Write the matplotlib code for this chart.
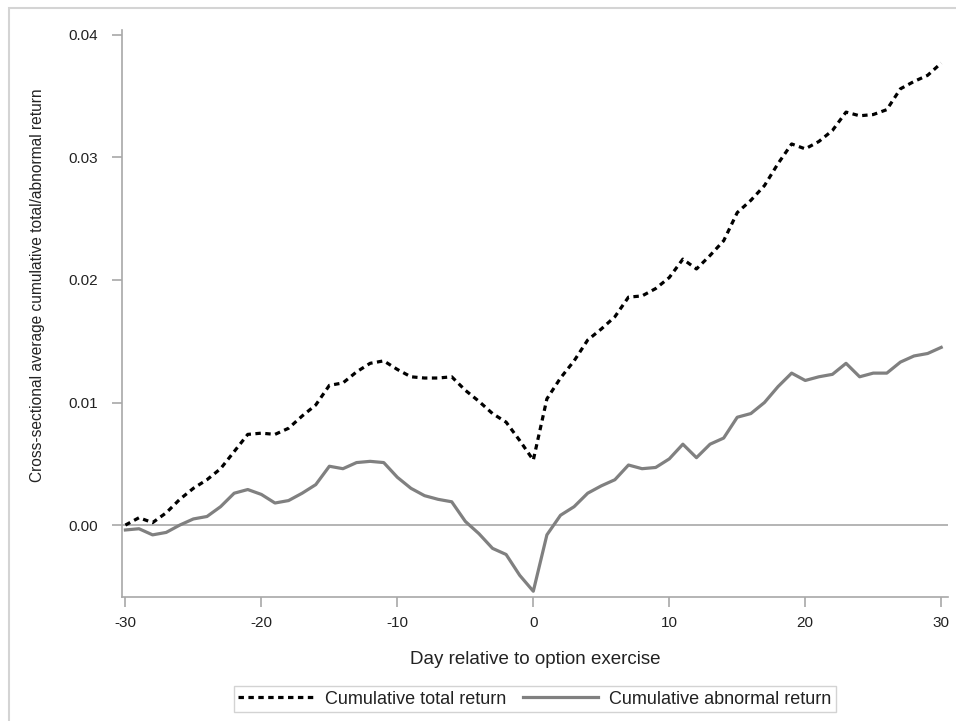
import matplotlib
matplotlib.use("Agg")
import matplotlib.pyplot as plt
from matplotlib.patches import Rectangle

# Day relative to option exercise
days = list(range(-30, 31))

# Cumulative total return (dashed)
total_ret = [
    0.0000, 0.0006, 0.0002, 0.0010, 0.0021, 0.0030, 0.0037, 0.0046, 0.0060, 0.0074,
    0.0075, 0.0074, 0.0079, 0.0089, 0.0098, 0.0114, 0.0116, 0.0125, 0.0132, 0.0134,
    0.0127, 0.0121, 0.0120, 0.0120, 0.0121, 0.0110, 0.0101, 0.0091, 0.0084, 0.0069,
    0.0053,
    0.0103, 0.0120, 0.0134, 0.0151, 0.0160, 0.0170, 0.0186, 0.0187, 0.0193, 0.0202,
    0.0217, 0.0209, 0.0220, 0.0232, 0.0255, 0.0265, 0.0277, 0.0295, 0.0311, 0.0307,
    0.0313, 0.0322, 0.0337, 0.0334, 0.0335, 0.0339, 0.0356, 0.0362, 0.0367, 0.0377,
]

# Cumulative abnormal return (solid)
abnormal_ret = [
    -0.0004, -0.0003, -0.0008, -0.0006, 0.0000, 0.0005, 0.0007, 0.0015, 0.0026, 0.0029,
    0.0025, 0.0018, 0.0020, 0.0026, 0.0033, 0.0048, 0.0046, 0.0051, 0.0052, 0.0051,
    0.0039, 0.0030, 0.0024, 0.0021, 0.0019, 0.0003, -0.0007, -0.0019, -0.0024, -0.0041,
    -0.0054,
    -0.0008, 0.0008, 0.0015, 0.0026, 0.0032, 0.0037, 0.0049, 0.0046, 0.0047, 0.0054,
    0.0066, 0.0055, 0.0066, 0.0071, 0.0088, 0.0091, 0.0100, 0.0113, 0.0124, 0.0118,
    0.0121, 0.0123, 0.0132, 0.0121, 0.0124, 0.0124, 0.0133, 0.0138, 0.0140, 0.0145,
]

x_ticks = [-30, -20, -10, 0, 10, 20, 30]
y_ticks = [0.00, 0.01, 0.02, 0.03, 0.04]

plt.rcParams["font.family"] = ["Liberation Sans", "DejaVu Sans"]

axis_grey = "#a8a8a8"
text_grey = "#222222"

fig = plt.figure(figsize=(9.56, 7.21), dpi=100)
ax = fig.add_axes([122 / 956, (721 - 597) / 721, (948 - 122) / 956, (597 - 30) / 721])

# outer frame
fig.patches.append(Rectangle((9 / 956, -0.05), 1.2, (721 - 8) / 721 + 0.05,
                             transform=fig.transFigure, fill=False,
                             edgecolor="#d4d4d4", linewidth=1.5))

ax.axhline(0, color=axis_grey, linewidth=1.2, zorder=1)
ax.plot(days, total_ret, color="black", linewidth=2.3, linestyle=(0, (1.7, 1.4)),
        label="Cumulative total return", zorder=3)
ax.plot(days, abnormal_ret, color="#808080", linewidth=2.3,
        label="Cumulative abnormal return", zorder=2)

ax.set_xlim(-30.25, 30.5)
ax.set_ylim(-0.00587, 0.0404)
ax.set_xticks(x_ticks)
ax.set_xticklabels([str(t) for t in x_ticks])
ax.set_yticks(y_ticks)
ax.set_yticklabels(["%.2f" % t for t in y_ticks])

for s in ["top", "right"]:
    ax.spines[s].set_visible(False)
for s in ["left", "bottom"]:
    ax.spines[s].set_color(axis_grey)
    ax.spines[s].set_linewidth(1.2)

ax.tick_params(axis="both", colors=axis_grey, length=7, width=1.2,
               labelcolor=text_grey, labelsize=11)
ax.tick_params(axis="x", pad=7)
ax.tick_params(axis="y", pad=10)

ax.set_xlabel("Day relative to option exercise", fontsize=13.5,
              color=text_grey, labelpad=15)
ax.set_ylabel("Cross-sectional average cumulative total/abnormal return", fontsize=11.2,
              color=text_grey)
ax.yaxis.set_label_coords(-0.093, 0.55)

leg = ax.legend(loc="upper center", bbox_to_anchor=(0.5, -0.157), ncol=2,
                frameon=True, fancybox=False, edgecolor="#c8c8c8",
                prop={"size": 13}, handlelength=4.2,
                columnspacing=0.9, handletextpad=0.6, borderpad=0.25,
                borderaxespad=0)
leg.get_frame().set_linewidth(1.0)
for t in leg.get_texts():
    t.set_color(text_grey)

fig.savefig("out.png", dpi=100)
